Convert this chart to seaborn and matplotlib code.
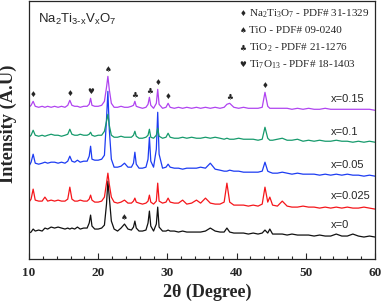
# XRD patterns of Na2Ti(3-x)VxO7 samples
import numpy as np
import pandas as pd
import matplotlib
matplotlib.use('Agg')
import matplotlib.pyplot as plt
from matplotlib.ticker import MultipleLocator
import seaborn as sns

sns.set_style('ticks')
plt.rcParams['font.family'] = ['Liberation Serif', 'DejaVu Sans']
plt.rcParams['axes.linewidth'] = 0.9

# 2theta grid (degrees)
theta = [10.0, 10.3, 10.6, 10.9, 11.4, 11.9, 12.3, 12.7, 13.2, 13.7,
         14.2, 14.7, 15.2, 15.6, 15.9, 16.2, 16.6, 17.0, 17.4, 17.9,
         18.4, 18.7, 18.9, 19.1, 19.5, 20.0, 20.5, 20.9, 21.2, 21.4,
         21.6, 21.9, 22.3, 22.8, 23.3, 23.8, 24.3, 24.8, 25.1, 25.3,
         25.5, 25.9, 26.4, 26.9, 27.2, 27.4, 27.6, 28.0, 28.4, 28.6,
         28.8, 29.3, 29.8, 30.1, 30.4, 31.0, 31.6, 32.2, 32.8, 33.5,
         34.2, 34.8, 35.5, 36.2, 36.9, 37.6, 38.2, 38.6, 39.0, 39.6,
         40.3, 41.0, 41.7, 42.4, 43.1, 43.7, 44.1, 44.5, 44.8, 45.2,
         45.9, 46.6, 47.3, 48.0, 48.8, 49.6, 50.4, 51.2, 52.0, 52.8,
         53.6, 54.4, 55.2, 56.0, 56.8, 57.6, 58.4, 59.2, 60.0]

# stacked intensities (arbitrary units, offsets included)
x_0 = [26, 27, 30, 28, 29, 28, 31, 30, 32, 31,
       32, 31, 30, 31, 30, 31, 30, 32, 30, 31,
       31, 36, 44, 33, 30, 30, 31, 34, 55, 78,
       62, 38, 30, 28, 31, 35, 30, 29, 32, 38,
       31, 28, 28, 29, 36, 48, 33, 28, 35, 52,
       32, 28, 28, 29, 28, 28, 27, 28, 27, 27,
       27, 27, 28, 31, 28, 27, 27, 31, 27, 26,
       26, 26, 25, 26, 25, 26, 29, 26, 30, 25,
       25, 25, 24, 25, 24, 24, 24, 23, 24, 23,
       23, 25, 23, 23, 25, 23, 22, 23, 22]

x_0025 = [57, 60, 70, 59, 58, 58, 62, 58, 59, 58,
          59, 58, 58, 60, 72, 60, 58, 58, 59, 58,
          58, 60, 64, 59, 57, 57, 58, 62, 76, 86,
          75, 62, 57, 56, 57, 59, 56, 56, 58, 61,
          57, 56, 55, 56, 58, 64, 57, 55, 58, 76,
          58, 56, 57, 61, 57, 56, 56, 59, 55, 56,
          59, 56, 61, 56, 55, 55, 57, 76, 57, 54,
          54, 54, 53, 54, 53, 55, 72, 57, 62, 54,
          53, 58, 53, 52, 52, 53, 52, 52, 51, 52,
          51, 52, 51, 52, 51, 51, 52, 51, 50]

x_005 = [93, 97, 105, 96, 95, 96, 97, 96, 97, 97,
         96, 97, 96, 98, 103, 98, 97, 99, 97, 98,
         98, 103, 113, 100, 99, 99, 100, 104, 140, 168,
         130, 100, 92, 92, 93, 96, 92, 92, 96, 107,
         95, 91, 91, 92, 100, 122, 98, 92, 110, 147,
         105, 91, 92, 95, 92, 91, 91, 90, 91, 91,
         91, 92, 91, 96, 90, 89, 88, 88, 89, 88,
         88, 87, 87, 87, 87, 88, 97, 88, 87, 86,
         86, 87, 86, 85, 86, 85, 85, 85, 84, 85,
         84, 85, 84, 85, 84, 84, 83, 84, 83]

x_01 = [122, 124, 129, 124, 123, 124, 123, 124, 125, 124,
        124, 123, 124, 125, 130, 125, 124, 124, 125, 124,
        124, 125, 127, 124, 123, 124, 124, 128, 138, 145,
        134, 124, 122, 122, 123, 122, 122, 122, 124, 128,
        123, 121, 121, 122, 124, 130, 122, 121, 124, 131,
        123, 121, 122, 126, 122, 121, 121, 122, 121, 122,
        121, 121, 122, 121, 122, 121, 120, 121, 120, 120,
        121, 120, 120, 120, 119, 120, 132, 121, 119, 119,
        120, 121, 119, 119, 120, 118, 119, 118, 119, 118,
        118, 119, 118, 118, 117, 118, 117, 118, 117]

x_015 = [152, 154, 158, 153, 152, 153, 152, 153, 152, 153,
         152, 153, 152, 154, 159, 154, 153, 153, 152, 153,
         153, 155, 161, 154, 153, 153, 154, 158, 172, 183,
         170, 156, 152, 152, 153, 152, 152, 153, 154, 158,
         153, 152, 151, 152, 155, 162, 154, 151, 156, 170,
         155, 151, 152, 156, 152, 151, 152, 151, 152, 151,
         152, 151, 152, 151, 152, 151, 152, 155, 156, 152,
         151, 152, 151, 151, 151, 152, 167, 153, 151, 151,
         151, 151, 151, 150, 151, 150, 151, 150, 150, 151,
         150, 150, 150, 150, 150, 150, 150, 150, 149]

samples = ['x=0', 'x=0.025', 'x=0.05', 'x=0.1', 'x=0.15']
colors = ['#111111', '#f5161b', '#1d3cf2', '#169a6c', '#b044f0']
label_y = [34, 63, 94, 127, 160]

# phase markers: (2theta, sample, symbol)
marker_theta = [10.6, 15.9, 18.9, 21.4, 25.3, 27.4, 28.6, 30.1, 39.0, 44.1, 23.8]
marker_sample = ['x=0.15'] * 10 + ['x=0']
marker_sym = ['\u2666', '\u2666', '\u2665', '\u2660', '\u2663', '\u2663',
              '\u2666', '\u2666', '\u2663', '\u2666', '\u2660']

legend_sym = ['\u2666', '\u2660', '\u2663', '\u2665']
legend_txt = [r'Na$_\mathregular{2}$Ti$_\mathregular{3}$O$_\mathregular{7}$ - PDF# 31-1329',
              'TiO - PDF# 09-0240',
              r'TiO$_\mathregular{2}$ - PDF# 21-1276',
              r'Ti$_\mathregular{7}$O$_\mathregular{13}$ - PDF# 18-1403']

series = {'x=0': x_0, 'x=0.025': x_0025, 'x=0.05': x_005, 'x=0.1': x_01, 'x=0.15': x_015}
df = pd.concat([pd.DataFrame({'theta': theta, 'intensity': series[s], 'sample': s})
                for s in samples], ignore_index=True)

fig = plt.figure(figsize=(3.83, 3.03), dpi=100)
ax = fig.add_axes([29 / 383, 44 / 303, 346 / 383, 258.5 / 303])
sns.lineplot(data=df, x='theta', y='intensity', hue='sample', hue_order=samples,
             palette=dict(zip(samples, colors)), estimator=None, sort=False,
             linewidth=0.9, legend=False, ax=ax)

ax.set_xlim(10, 60)
ax.set_ylim(0, 259)
ax.set_yticks([])
ax.xaxis.set_major_locator(MultipleLocator(10))
ax.xaxis.set_minor_locator(MultipleLocator(2))
ax.tick_params(axis='x', which='major', direction='in', length=4, width=0.8, pad=6)
ax.tick_params(axis='x', which='minor', direction='in', length=2.5, width=0.8)
for lab in ax.get_xticklabels():
    lab.set_fontweight('bold')
    lab.set_fontsize(9.5)

ax.set_xlabel('2\u03b8 (Degree)', fontsize=13, fontweight='bold')
ax.xaxis.set_label_coords(0.515, -0.095)
ax.set_ylabel('Intensity (A.U)', fontsize=13.3, fontweight='bold')
ax.yaxis.set_label_coords(-0.035, 0.525)

# sample labels
for s, yy in zip(samples, label_y):
    ax.text(53.6, yy, s, fontsize=8, family='Liberation Sans', va='center', ha='left')

# phase markers above peaks
for t, s, sym in zip(marker_theta, marker_sample, marker_sym):
    yy = series[s][theta.index(t)]
    ax.text(t, yy + 2, sym, fontsize=5.5, family='DejaVu Sans', ha='center', va='bottom')

# composition label
ax.text(11.3, 240, r'$\mathregular{Na_2Ti_{3\text{-}x}V_xO_7}$',
        fontsize=9.5, family='Liberation Sans', va='center', ha='left')

# phase legend
for i, (sym, txt) in enumerate(zip(legend_sym, legend_txt)):
    yy = 246 - i * 17
    ax.text(40.9, yy, sym, fontsize=5.5, family='DejaVu Sans', ha='center', va='center')
    ax.text(41.8, yy, txt, fontsize=8, ha='left', va='center')

fig.savefig('out.png', dpi=100)
